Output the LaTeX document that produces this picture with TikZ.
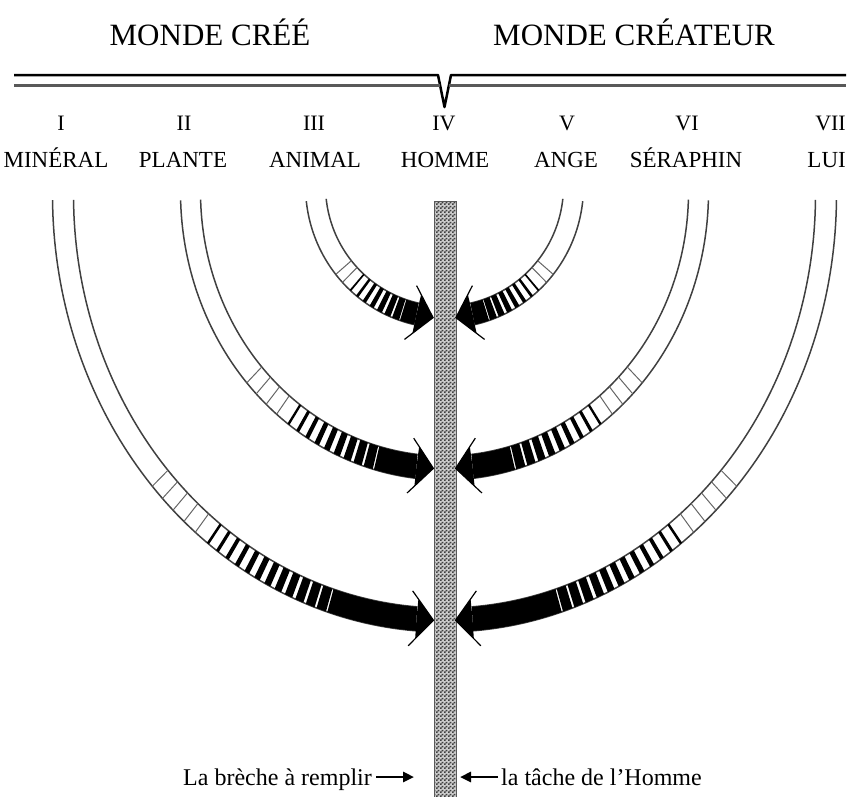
\documentclass[tikz,border=0pt]{standalone}
\usepackage{fontspec}
\setmainfont{Liberation Serif}
\usetikzlibrary{arrows.meta,patterns}
\pgfdeclarepatternformonly{checkerdots}{\pgfpointorigin}{\pgfpoint{4pt}{4pt}}{\pgfpoint{4pt}{4pt}}{%
  \pgfpathrectangle{\pgfpointorigin}{\pgfpoint{2pt}{2pt}}%
  \pgfpathrectangle{\pgfpoint{2pt}{2pt}}{\pgfpoint{2pt}{2pt}}%
  \pgfusepath{fill}}
\begin{document}
\begin{tikzpicture}[x=1pt,y=-1pt,
  ttl/.style={font=\fontsize{31}{35}\selectfont, anchor=base, inner sep=0pt},
  numeral/.style={font=\fontsize{22}{26}\selectfont, anchor=base, inner sep=0pt},
  namelbl/.style={font=\fontsize{23}{27}\selectfont, anchor=base, inner sep=0pt},
  captn/.style={font=\fontsize{24}{28}\selectfont, inner sep=0pt},
  arcline/.style={draw=black!75, line width=1.5pt},
  rung/.style={draw=black!60, line width=1pt},
  barb/.style={draw=black, line width=1.2pt},
  captarrow/.style={line width=2.6pt, -{Triangle[length=11pt,width=10pt]}},
  barstyle/.style={draw=black!65, line width=0.9pt, preaction={fill=black!20},
    pattern=checkerdots, pattern color=black!75,
    minimum width=22pt, minimum height=596pt, inner sep=0pt, anchor=north}
]
\useasboundingbox (0,0) rectangle (848,796);

% top double line with notch
\draw[line width=2.5pt, line join=round] (14,75) -- (438,75) -- (444.5,107) -- (451,75) -- (846,75);
\draw[line width=3pt, black!65] (14,85) -- (440,85) (449,85) -- (846,85);

% titles
\node[ttl] (cree) at (210,45) {MONDE CRÉÉ};
\node[ttl] (createur) at (634,45) {MONDE CRÉATEUR};

% numerals
\node[numeral] (n1) at (61,130) {I};
\node[numeral] (n2) at (184,130) {II};
\node[numeral] (n3) at (314,130) {III};
\node[numeral] (n4) at (444,130) {IV};
\node[numeral] (n5) at (567,130) {V};
\node[numeral] (n6) at (687,130) {VI};
\node[numeral, anchor=base east] (n7) at (846,130) {VII};

% names
\node[namelbl] (mineral) at (56,167) {MINÉRAL};
\node[namelbl] (plante) at (183,167) {PLANTE};
\node[namelbl] (animal) at (315,167) {ANIMAL};
\node[namelbl] (homme) at (445,167) {HOMME};
\node[namelbl] (ange) at (566,167) {ANGE};
\node[namelbl] (seraphin) at (686,167) {SÉRAPHIN};
\node[namelbl, anchor=base east] (lui) at (846,167) {LUI};

% central bar
\node[barstyle] (bar) at (445,201) {};

% arcs
\foreach \cy/\aO/\aI/\bO/\bI/\tr/\ts/\tf/\nr/\ns in
  {195/392/371/437/413/41.8/52.7/72.6/5/12,
   192/264/244/288/264/41.5/53.5/74.5/4/9,
   186/139/119/142/120/38.5/47/71.3/2/7}{
 \foreach \s in {1,-1}{
  \pgfmathsetmacro\aC{(\aO+\aI)/2}
  \pgfmathsetmacro\bC{(\bO+\bI)/2}
  \pgfmathsetmacro\tH{acos(28/\aC)}
  \pgfmathsetmacro\tZ{asin((200-\cy)/\bC)}
  % thin lines
  \draw[arcline] plot[domain=\tZ:\tH, samples=80] ({444.5-(\s)*\aO*cos(\x)},{\cy+\bO*sin(\x)});
  \draw[arcline] plot[domain=\tZ:\tH, samples=80] ({444.5-(\s)*\aI*cos(\x)},{\cy+\bI*sin(\x)});
  % rungs
  \pgfmathtruncatemacro\nrm{\nr-1}
  \foreach \k in {0,...,\nrm}{
    \pgfmathsetmacro\tK{\tr+\k*(\ts-\tr)/\nr}
    \draw[rung] ({444.5-(\s)*\aO*cos(\tK)},{\cy+\bO*sin(\tK)}) -- ({444.5-(\s)*\aI*cos(\tK)},{\cy+\bI*sin(\tK)});
  }
  % stripes
  \pgfmathsetmacro\dT{(\tf-\ts)/\ns}
  \pgfmathtruncatemacro\nsm{\ns-1}
  \foreach \i in {0,...,\nsm}{
    \pgfmathsetmacro\tA{\ts+\i*\dT}
    \pgfmathsetmacro\tB{\tA+(0.22+0.66*\i/\nsm)*\dT}
    \fill ({444.5-(\s)*\aO*cos(\tA)},{\cy+\bO*sin(\tA)}) -- ({444.5-(\s)*\aO*cos(\tB)},{\cy+\bO*sin(\tB)})
       -- ({444.5-(\s)*\aI*cos(\tB)},{\cy+\bI*sin(\tB)}) -- ({444.5-(\s)*\aI*cos(\tA)},{\cy+\bI*sin(\tA)}) -- cycle;
  }
  % solid part
  \fill plot[domain=\tf:\tH, samples=30] ({444.5-(\s)*\aO*cos(\x)},{\cy+\bO*sin(\x)})
     -- plot[domain=\tH:\tf, samples=30] ({444.5-(\s)*\aI*cos(\x)},{\cy+\bI*sin(\x)}) -- cycle;
  % arrowhead
  \pgfmathsetmacro\px{444.5-(\s)*\aC*cos(\tH)}
  \pgfmathsetmacro\py{\cy+\bC*sin(\tH)}
  \pgfmathsetmacro\ph{atan2(\bC*cos(\tH),(\s)*\aC*sin(\tH))}
  \pgfmathsetmacro\tx{\px+17*cos(\ph)}
  \pgfmathsetmacro\ty{\py+17*sin(\ph)}
  \pgfmathsetmacro\cAx{\tx+26*cos(\ph+230)}
  \pgfmathsetmacro\cAy{\ty+26*sin(\ph+230)}
  \pgfmathsetmacro\cBx{\tx+26*cos(\ph+130)}
  \pgfmathsetmacro\cBy{\ty+26*sin(\ph+130)}
  \pgfmathsetmacro\bAx{\tx+36*cos(\ph+230)}
  \pgfmathsetmacro\bAy{\ty+36*sin(\ph+230)}
  \pgfmathsetmacro\bBx{\tx+36*cos(\ph+130)}
  \pgfmathsetmacro\bBy{\ty+36*sin(\ph+130)}
  \fill (\tx,\ty) -- (\cAx,\cAy) -- (\px,\py) -- (\cBx,\cBy) -- cycle;
  \draw[barb] (\bAx,\bAy) -- (\tx,\ty) -- (\bBx,\bBy);
 }
}

% bottom captions
\node[captn, anchor=base east] (breche) at (372,785) {La brèche à remplir};
\node[captn, anchor=base west] (tache) at (501,785) {la tâche de l'Homme};
\coordinate (la) at (414,777);
\coordinate (ra) at (460,777);
\draw[captarrow] ([xshift=4pt,yshift=8pt]breche.base east) -- (la);
\draw[captarrow] ([xshift=-3pt,yshift=8pt]tache.base west) -- (ra);
\end{tikzpicture}
\end{document}
